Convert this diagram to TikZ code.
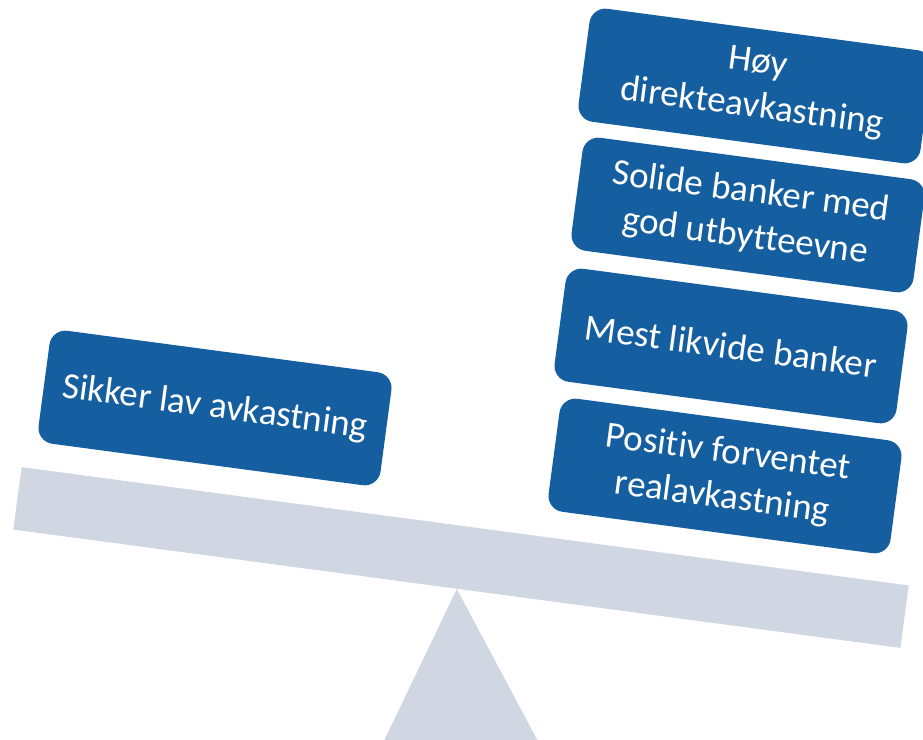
\documentclass[tikz,border=0pt]{standalone}
\usepackage{fontspec}
\setmainfont{Carlito}[Ligatures=NoCommon]
\usetikzlibrary{positioning}

\definecolor{boxblue}{RGB}{21,94,160}
\definecolor{beamgrey}{RGB}{208,214,226}

\begin{document}
\begin{tikzpicture}[x=1pt,y=1pt,
    argbox/.style={fill=boxblue, text=white, rounded corners=16pt,
        minimum width=345pt, minimum height=114pt, inner sep=0pt,
        align=center, rotate=-7.6, font=\fontsize{37}{45}\selectfont}]
    %\draw[step=50,help lines] (0,0) grid (923,-739);
    \clip (0,0) rectangle (923,-739);

    % vippe
    \node[fill=beamgrey, minimum width=895pt, minimum height=63pt,
        inner sep=0pt, rotate=-7.6] (beam) at (461,-557.5) {};
    \fill[beamgrey] (beam.south) -- (382,-745) -- (540,-745) -- cycle;

    % venstre side
    \node[argbox] (sikker) at (215,-408) {Sikker lav avkastning};

    % hoyre side
    \node[argbox] (realavk) at (725,-476) {Positiv forventet\\realavkastning};
    \node[argbox] (likvide) at (731,-346) {Mest likvide banker};
    \node[argbox] (solide) at (748,-215) {Solide banker med\\god utbytteevne};
    \node[argbox] (direkte) at (755,-86) {Høy\\direkteavkastning};

\end{tikzpicture}
\end{document}
